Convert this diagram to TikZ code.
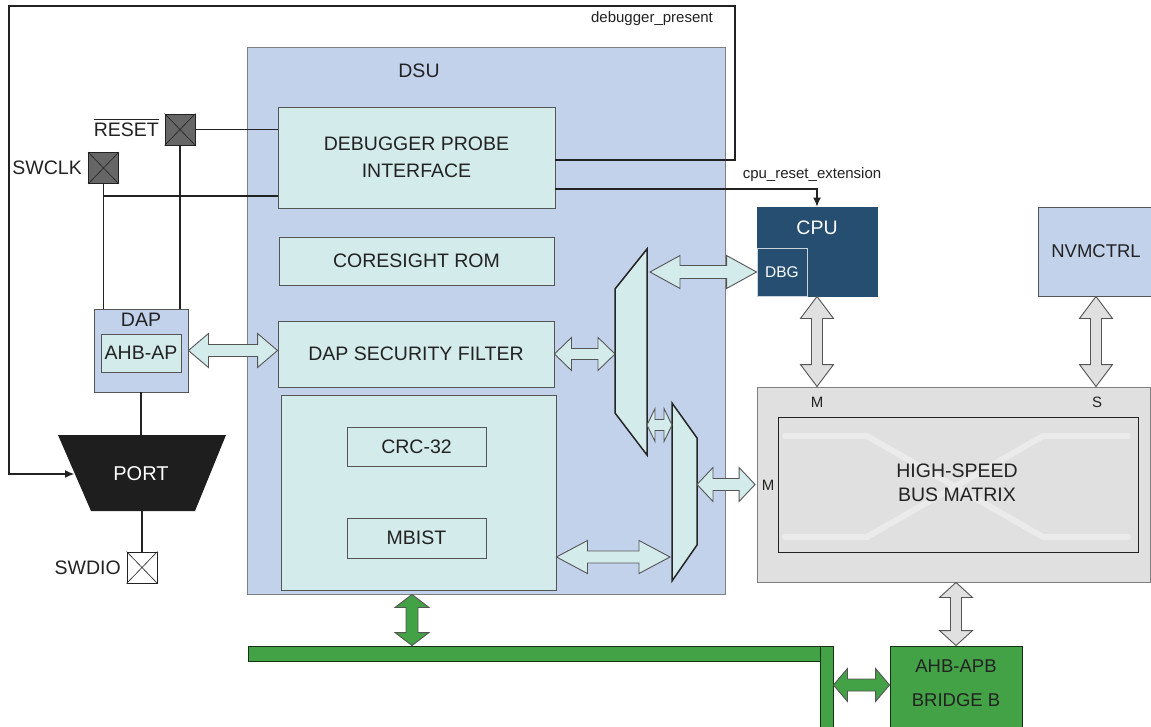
\documentclass[tikz,border=0pt]{standalone}
\usepackage{fontspec}
\setmainfont{Liberation Sans}
\usetikzlibrary{arrows.meta,calc}
\definecolor{dsublue}{HTML}{C3D2EB}
\definecolor{lcyan}{HTML}{D4EBEB}
\definecolor{cpublue}{HTML}{254E70}
\definecolor{mgray}{HTML}{E0E0E0}
\definecolor{xgray}{HTML}{EBEBEB}
\definecolor{bgreen}{HTML}{43A146}
\definecolor{pingray}{HTML}{666666}
\definecolor{portblack}{HTML}{1E1E1E}
\definecolor{txt}{HTML}{222222}
\definecolor{edge}{HTML}{555555}
\newcommand{\hdbl}[6][]{\draw[#1] let \p1=#2, \p2=#3 in (\x1,\y1) -- (\x1+#4,\y1+#5) -- (\x1+#4,\y1+#6) -- (\x2-#4,\y1+#6) -- (\x2-#4,\y1+#5) -- (\x2,\y1) -- (\x2-#4,\y1-#5) -- (\x2-#4,\y1-#6) -- (\x1+#4,\y1-#6) -- (\x1+#4,\y1-#5) -- cycle;}
\newcommand{\vdbl}[6][]{\draw[#1] let \p1=#2, \p2=#3 in (\x1,\y1) -- (\x1+#5,\y1-#4) -- (\x1+#6,\y1-#4) -- (\x1+#6,\y2+#4) -- (\x1+#5,\y2+#4) -- (\x1,\y2) -- (\x1-#5,\y2+#4) -- (\x1-#6,\y2+#4) -- (\x1-#6,\y1-#4) -- (\x1-#5,\y1-#4) -- cycle;}
\tikzset{
  box/.style={draw=edge, line width=0.9pt, inner sep=0pt, text=txt, font=\fontsize{19.5}{23}\selectfont},
  cyanbox/.style={box, fill=lcyan},
  lbl/.style={inner sep=0pt, text=txt, font=\fontsize{19.5}{23}\selectfont},
  small/.style={inner sep=0pt, text=txt, font=\fontsize{15}{18}\selectfont},
  wire/.style={draw=txt, line width=1.1pt},
  pinbox/.style={draw=txt, line width=0.8pt, inner sep=0pt, minimum width=30pt, minimum height=31pt},
  muxst/.style={fill=lcyan, draw=black!85, line width=1.5pt, line join=miter},
  cyanarrow/.style={fill=lcyan, draw=edge, line width=0.9pt},
  grayarrow/.style={fill=mgray, draw=edge, line width=0.9pt},
  greenarrow/.style={fill=bgreen, draw=edge, line width=0.9pt},
  tip/.style={-{Latex[length=9pt,width=8pt]}}
}
\begin{document}
\begin{tikzpicture}[x=1pt,y=-1pt]
\useasboundingbox[fill=white] (0,0) rectangle (1151,727);
% DSU
\node[box, fill=dsublue, draw=gray, minimum width=478pt, minimum height=547pt] (dsu) at (486,320.5) {};
\node[lbl] (dsulabel) at (419,71) {DSU};
\node[cyanbox, minimum width=277pt, minimum height=101pt, align=center, font=\fontsize{19.5}{27}\selectfont] (probe) at (416.5,157.5) {DEBUGGER PROBE\\INTERFACE};
\node[cyanbox, minimum width=275pt, minimum height=48pt] (rom) at (416.5,261) {CORESIGHT ROM};
\node[cyanbox, minimum width=276pt, minimum height=66pt] (sec) at (416,354) {DAP SECURITY FILTER};
\node[cyanbox, minimum width=275pt, minimum height=195pt] (big) at (418.5,492.5) {};
\node[cyanbox, minimum width=139pt, minimum height=39pt] (crc) at (416.5,446.5) {CRC-32};
\node[cyanbox, minimum width=139pt, minimum height=40pt] (mbist) at (416.5,538) {MBIST};
% muxes
\coordinate (m1a) at (615,289); \coordinate (m1b) at (647,249);
\coordinate (m1c) at (647,455); \coordinate (m1d) at (615,413);
\draw[muxst] (m1a) -- (m1b) -- (m1c) -- (m1d) -- cycle;
\coordinate (m2a) at (672,403); \coordinate (m2b) at (697,438);
\coordinate (m2c) at (697,545); \coordinate (m2d) at (672,581);
\draw[muxst] (m2a) -- (m2b) -- (m2c) -- (m2d) -- cycle;
% CPU
\node[box, fill=cpublue, draw=cpublue, minimum width=120pt, minimum height=89pt] (cpu) at (817,251.5) {};
\node[lbl, text=white] (cpulabel) at (817,228) {CPU};
\node[box, fill=cpublue, draw=white!75!cpublue, text=white, minimum width=50pt, minimum height=48pt, font=\fontsize{15.5}{18}\selectfont] (dbg) at (782,272) {DBG};
% NVMCTRL
\node[box, fill=dsublue, minimum width=116pt, minimum height=89pt, font=\fontsize{18.5}{22}\selectfont] (nvm) at (1096,251.5) {NVMCTRL};
% bus matrix
\node[box, fill=mgray, draw=gray, minimum width=393pt, minimum height=195pt] (matrix) at (954,484.5) {};
\node[box, fill=mgray, draw=txt, minimum width=360pt, minimum height=135pt] (inner) at (958,484.5) {};
\draw[xgray, line width=6pt, line cap=round, line join=round] (785,436) -- (867,436) -- (1043,537) -- (1128,537);
\draw[xgray, line width=6pt, line cap=round, line join=round] (785,537) -- (867,537) -- (1043,436) -- (1128,436);
\node[lbl, align=center, font=\fontsize{19.5}{24}\selectfont] (mtxt) at (957,483) {HIGH-SPEED\\ BUS MATRIX};
\node[small] (mtop) at (817,402) {M};
\node[small] (stop) at (1097,402) {S};
\node[small] (mleft) at (768,485) {M};
% green bus and bridge
\node[box, fill=bgreen, draw=black!70!bgreen, minimum width=572pt, minimum height=15pt] (bus) at (534,653.5) {};
\node[box, fill=bgreen, draw=black!70!bgreen, minimum width=13pt, minimum height=84pt] (vbar) at (826.5,688) {};
\node[box, fill=bgreen, draw=black!70!bgreen, minimum width=132pt, minimum height=84pt] (bridge) at (956,688) {};
\node[lbl, align=center, font=\fontsize{18.5}{34}\selectfont] (bridgelabel) at (956,683) {AHB-APB\\BRIDGE B};
% DAP
\node[box, fill=dsublue, minimum width=94pt, minimum height=83pt] (dap) at (141,350.5) {};
\node[lbl] (daplabel) at (141,320) {DAP};
\node[cyanbox, minimum width=80pt, minimum height=38pt] (ahbap) at (141,353) {AHB-AP};
% PORT
\fill[portblack] (58,435) -- (226,435) -- (195,511) -- (91,511) -- cycle;
\node[lbl, text=white, font=\fontsize{20}{24}\selectfont] (port) at (141,474) {PORT};
\coordinate (porttop) at (141,435);
\coordinate (portbot) at (142,511);
\coordinate (portin) at (74,474);
% pins
\node[pinbox, fill=pingray] (resetpin) at (180,129.5) {};
\draw[txt, line width=0.6pt] (resetpin.north west) -- (resetpin.south east) (resetpin.north east) -- (resetpin.south west);
\node[pinbox, fill=pingray] (swclk) at (103.5,168) {};
\draw[txt, line width=0.6pt] (swclk.north west) -- (swclk.south east) (swclk.north east) -- (swclk.south west);
\node[pinbox, fill=white] (swdio) at (142,567.5) {};
\draw[txt, line width=0.6pt] (swdio.north west) -- (swdio.south east) (swdio.north east) -- (swdio.south west);
\node[lbl, anchor=east] (resetlabel) at (159,130) {RESET};
\draw[txt, line width=1pt] ($(resetlabel.north west)+(0,-3)$) -- ($(resetlabel.north east)+(0,-3)$);
\node[lbl, anchor=east] (swclklabel) at (82,168) {SWCLK};
\node[lbl, anchor=east] (swdiolabel) at (121,568) {SWDIO};
% wires
\draw[wire] (resetpin.east) -- (resetpin.east -| probe.west);
\draw[wire] (resetpin.south) -- (resetpin.south |- dap.north);
\draw[wire] (swclk.south) -- (swclk.south |- dap.north);
\coordinate (clkj) at (103.5,196);
\draw[wire] (clkj) -- (clkj -| probe.west);
\draw[wire] (dap.south) -- (porttop);
\draw[wire] (portbot) -- (swdio.north);
\draw[wire, tip] (probe.east |- 0,160) -- (735,160) -- (735,6) -- (9,6) -- (9,474) -- (portin);
\node[small] (dplabel) at (652,19) {debugger\_present};
\draw[wire, tip] (probe.east |- 0,189) -- (cpu.north |- 0,189) -- (cpu.north);
\node[small] (crlabel) at (812,175) {cpu\_reset\_extension};
% double arrows
\hdbl[cyanarrow]{(dap.east)}{(sec.west |- dap.east)}{20pt}{17pt}{6pt}
\hdbl[cyanarrow]{(sec.east)}{(m1a |- sec.east)}{17pt}{16.5pt}{5.5pt}
\hdbl[cyanarrow]{($(m1b |- dbg.west)+(3,0)$)}{(dbg.west)}{30pt}{16.5pt}{6.5pt}
\hdbl[cyanarrow]{(m1c |- 0,425)}{(m2a |- 0,425)}{8pt}{16.5pt}{5.5pt}
\hdbl[cyanarrow]{(m2b |- matrix.west)}{($(matrix.west)+(-2,0)$)}{16pt}{17pt}{6pt}
\hdbl[cyanarrow]{(big.east |- 0,557)}{($(m2a |- 0,557)+(-2,0)$)}{31pt}{16.5pt}{6pt}
\vdbl[grayarrow]{(cpu.south)}{(cpu.south |- matrix.north)}{22pt}{16.5pt}{5.5pt}
\vdbl[grayarrow]{(nvm.south)}{(nvm.south |- matrix.north)}{22pt}{16.5pt}{5.5pt}
\vdbl[grayarrow]{(bridge.north |- matrix.south)}{(bridge.north)}{15pt}{16.5pt}{5.5pt}
\vdbl[greenarrow]{(dsu.south -| 412,0)}{(bus.north -| 412,0)}{13pt}{17pt}{6pt}
\hdbl[greenarrow]{(vbar.east |- 0,685)}{(bridge.west |- 0,685)}{14pt}{16.5pt}{6pt}
\end{tikzpicture}
\end{document}
